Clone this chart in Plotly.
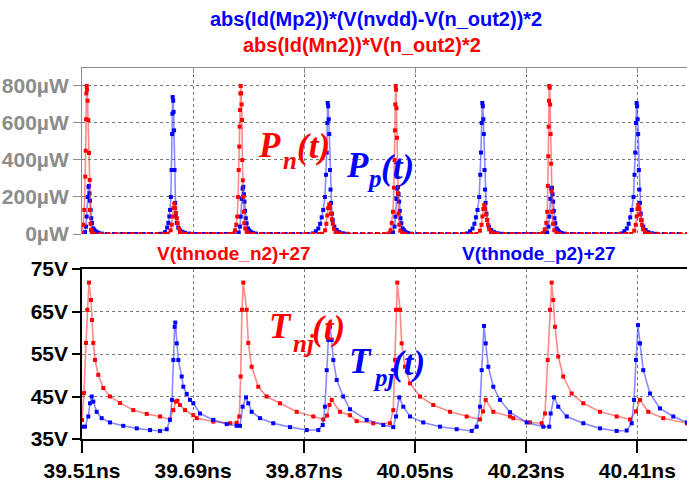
import plotly.graph_objects as go

# ---------------- data (time in ns) ----------------
# Pn(t): abs(Id(Mn2))*V(n_out2)*2  [uW]
pn_points = [
    (39.5100, 5), (39.5120, 50), (39.5137, 130), (39.5153, 310), (39.5160, 450), (39.5166, 620),
    (39.5171, 760), (39.5176, 800), (39.5182, 780), (39.5190, 720), (39.5202, 616), (39.5213, 438),
    (39.5225, 292), (39.5230, 130), (39.5238, 55), (39.5246, 22), (39.5260, 8), (39.5300, 2),
    (39.540, 0), (39.553, 0), (39.566, 0), (39.579, 0), (39.592, 0), (39.605, 0), (39.618, 0),
    (39.631, 0), (39.642, 0),
    (39.6490, 1), (39.6537, 20), (39.6555, 50), (39.6570, 94), (39.6583, 140), (39.6596, 165),
    (39.6610, 140), (39.6623, 113), (39.6637, 85), (39.6650, 59), (39.6670, 30), (39.6688, 10),
    (39.6720, 4), (39.6770, 1),
    (39.688, 0), (39.700, 0), (39.712, 0), (39.724, 0), (39.736, 0), (39.748, 0),
    (39.7560, 3), (39.7580, 20), (39.7600, 50), (39.7617, 94), (39.7630, 200), (39.7640, 346),
    (39.7649, 472), (39.7655, 580), (39.7661, 670), (39.7667, 760), (39.7672, 800), (39.7680, 760),
    (39.7687, 700), (39.7693, 616), (39.7698, 400), (39.7706, 290), (39.7714, 200), (39.7722, 120),
    (39.7730, 58), (39.7745, 30), (39.7769, 12), (39.7800, 4),
    (39.788, 0), (39.800, 0), (39.812, 0), (39.824, 0), (39.836, 0), (39.848, 0), (39.860, 0),
    (39.872, 0), (39.884, 0), (39.894, 0),
    (39.8990, 1), (39.9040, 20), (39.9060, 55), (39.9075, 100), (39.9090, 140), (39.9108, 160),
    (39.9120, 140), (39.9135, 110), (39.9150, 80), (39.9165, 55), (39.9185, 28), (39.9210, 10),
    (39.9250, 3), (39.9300, 1),
    (39.942, 0), (39.954, 0), (39.966, 0), (39.978, 0), (39.990, 0), (40.000, 0),
    (40.0070, 3), (40.0100, 20), (40.0120, 60), (40.0140, 120), (40.0155, 250), (40.0165, 400),
    (40.0172, 560), (40.0178, 700), (40.0184, 800), (40.0190, 780), (40.0197, 680), (40.0205, 520),
    (40.0212, 380), (40.0220, 220), (40.0230, 110), (40.0242, 50), (40.0260, 18), (40.0290, 5),
    (40.0340, 1),
    (40.045, 0), (40.057, 0), (40.069, 0), (40.081, 0), (40.093, 0), (40.105, 0), (40.117, 0),
    (40.129, 0), (40.141, 0), (40.149, 0),
    (40.1550, 18), (40.1575, 50), (40.1590, 95), (40.1605, 135), (40.1620, 157), (40.1635, 135),
    (40.1650, 105), (40.1665, 75), (40.1680, 50), (40.1700, 25), (40.1730, 9), (40.1770, 3),
    (40.183, 0), (40.195, 0), (40.207, 0), (40.219, 0), (40.231, 0), (40.243, 0), (40.252, 0),
    (40.2570, 5), (40.2600, 25), (40.2625, 60), (40.2640, 120), (40.2650, 260), (40.2657, 420),
    (40.2663, 580), (40.2668, 720), (40.2673, 800), (40.2680, 790), (40.2687, 700), (40.2695, 540),
    (40.2703, 380), (40.2712, 230), (40.2722, 120), (40.2735, 55), (40.2755, 20), (40.2790, 6),
    (40.2840, 1),
    (40.296, 0), (40.308, 0), (40.320, 0), (40.332, 0), (40.344, 0), (40.356, 0), (40.368, 0),
    (40.380, 0), (40.392, 0), (40.400, 0),
    (40.4050, 18), (40.4075, 50), (40.4090, 95), (40.4103, 135), (40.4116, 157), (40.4130, 135),
    (40.4145, 105), (40.4160, 75), (40.4175, 50), (40.4195, 25), (40.4225, 9), (40.4265, 3),
    (40.432, 0), (40.444, 0), (40.456, 0), (40.468, 0), (40.480, 0), (40.4905, 0),
]

# Pp(t): abs(Id(Mp2))*(V(nvdd)-V(n_out2))*2  [uW]
pp_points = [
    (39.5100, 0), (39.5130, 2), (39.5150, 10), (39.5165, 40), (39.5175, 94), (39.5190, 200),
    (39.5205, 255), (39.5213, 260), (39.5222, 220), (39.5230, 180), (39.5240, 130), (39.5250, 85),
    (39.5262, 59), (39.5283, 30), (39.5300, 22), (39.5320, 14), (39.5340, 10), (39.5370, 6),
    (39.5420, 2),
    (39.550, 0), (39.562, 0), (39.574, 0), (39.586, 0), (39.598, 0), (39.610, 0), (39.622, 0),
    (39.632, 0),
    (39.6380, 1), (39.6445, 10), (39.6480, 35), (39.6500, 60), (39.6515, 95), (39.6527, 130),
    (39.6540, 200), (39.6552, 346), (39.6560, 540), (39.6565, 650), (39.6570, 740), (39.6578, 720),
    (39.6585, 660), (39.6592, 560), (39.6600, 346), (39.6610, 168), (39.6620, 100), (39.6635, 59),
    (39.6660, 35), (39.6690, 20), (39.6730, 12), (39.6770, 6), (39.6840, 2),
    (39.695, 0), (39.707, 0), (39.719, 0), (39.731, 0), (39.743, 0), (39.755, 0),
    (39.7640, 8), (39.7660, 40), (39.7672, 94), (39.7688, 190), (39.7703, 245), (39.7714, 255),
    (39.7724, 215), (39.7733, 175), (39.7743, 125), (39.7755, 85), (39.7768, 58), (39.7790, 30),
    (39.7810, 20), (39.7835, 12), (39.7870, 6), (39.7920, 2),
    (39.804, 0), (39.816, 0), (39.828, 0), (39.840, 0), (39.852, 0), (39.864, 0), (39.876, 0),
    (39.8840, 3), (39.8890, 15), (39.8930, 30), (39.8960, 55), (39.8985, 90), (39.9010, 130),
    (39.9038, 200), (39.9055, 320), (39.9066, 440), (39.9075, 600), (39.9082, 708), (39.9090, 690),
    (39.9100, 620), (39.9108, 540), (39.9119, 346), (39.9128, 240), (39.9136, 168), (39.9150, 110),
    (39.9163, 76), (39.9190, 40), (39.9228, 22), (39.9270, 10), (39.9330, 4), (39.9400, 1),
    (39.952, 0), (39.964, 0), (39.976, 0), (39.988, 0), (40.000, 0), (40.010, 0),
    (40.0140, 8), (40.0165, 40), (40.0180, 94), (40.0195, 190), (40.0210, 245), (40.0221, 254),
    (40.0231, 215), (40.0240, 175), (40.0250, 125), (40.0262, 85), (40.0275, 58), (40.0297, 30),
    (40.0317, 20), (40.0342, 12), (40.0377, 6), (40.0427, 2),
    (40.054, 0), (40.066, 0), (40.078, 0), (40.090, 0), (40.102, 0), (40.114, 0), (40.126, 0),
    (40.1340, 3), (40.1390, 15), (40.1430, 30), (40.1460, 55), (40.1485, 90), (40.1510, 130),
    (40.1538, 200), (40.1555, 320), (40.1566, 440), (40.1578, 600), (40.1588, 708), (40.1596, 690),
    (40.1605, 620), (40.1613, 540), (40.1624, 346), (40.1633, 240), (40.1641, 168), (40.1655, 110),
    (40.1668, 76), (40.1695, 40), (40.1733, 22), (40.1775, 10), (40.1835, 4), (40.1905, 1),
    (40.202, 0), (40.214, 0), (40.226, 0), (40.238, 0), (40.250, 0), (40.260, 0),
    (40.2640, 8), (40.2660, 40), (40.2675, 94), (40.2690, 190), (40.2705, 245), (40.2717, 250),
    (40.2727, 215), (40.2736, 175), (40.2746, 125), (40.2758, 85), (40.2771, 58), (40.2793, 30),
    (40.2813, 20), (40.2838, 12), (40.2873, 6), (40.2923, 2),
    (40.304, 0), (40.316, 0), (40.328, 0), (40.340, 0), (40.352, 0), (40.364, 0), (40.376, 0),
    (40.3840, 3), (40.3890, 15), (40.3930, 30), (40.3960, 55), (40.3985, 90), (40.4010, 130),
    (40.4038, 200), (40.4055, 320), (40.4067, 440), (40.4078, 600), (40.4089, 708), (40.4097, 690),
    (40.4106, 620), (40.4114, 540), (40.4125, 346), (40.4134, 240), (40.4142, 168), (40.4156, 110),
    (40.4169, 76), (40.4196, 40), (40.4234, 22), (40.4276, 10), (40.4336, 4), (40.4406, 1),
    (40.453, 0), (40.465, 0), (40.477, 0), (40.4905, 0),
]

# Tnj(t): V(thnode_n2)+27  [V]
tn_points = [
    (39.5100, 39.5), (39.5132, 45.8), (39.5165, 57.6), (39.5186, 65.4), (39.5213, 71.8),
    (39.5246, 67.7), (39.5262, 63.0), (39.5283, 57.6), (39.5311, 53.6), (39.5364, 50.1),
    (39.5445, 47.0), (39.5554, 45.0), (39.5716, 43.5), (39.5931, 41.8), (39.6149, 40.9),
    (39.6364, 40.3), (39.6526, 39.6), (39.6580, 41.8), (39.6623, 43.8), (39.6645, 44.0),
    (39.6688, 43.0), (39.6769, 41.8), (39.6904, 40.6), (39.6959, 39.9), (39.7228, 39.1),
    (39.7499, 38.7), (39.7607, 38.8), (39.7649, 40.3), (39.7672, 49.7), (39.7693, 65.4),
    (39.7714, 71.8), (39.7769, 65.4), (39.7795, 57.6), (39.7850, 52.0), (39.7957, 47.3),
    (39.8093, 45.0), (39.8309, 43.4), (39.8580, 41.4), (39.8849, 40.3), (39.9011, 39.6),
    (39.9071, 40.5), (39.9111, 43.0), (39.9147, 44.2), (39.9281, 41.4), (39.9443, 40.6),
    (39.9552, 39.2), (39.9821, 38.7), (40.0092, 38.7), (40.0145, 41.8), (40.0173, 53.6),
    (40.0189, 65.4), (40.0210, 71.8), (40.0254, 65.4), (40.0281, 57.5), (40.0335, 52.0),
    (40.0416, 48.1), (40.0578, 45.0), (40.0793, 43.0), (40.1064, 41.4), (40.1335, 40.3),
    (40.1550, 39.6), (40.1599, 41.5), (40.1643, 44.2), (40.1766, 41.4), (40.2037, 40.3),
    (40.2090, 39.9), (40.2361, 38.9), (40.2550, 38.7), (40.2604, 41.0), (40.2648, 53.6),
    (40.2685, 65.4), (40.2712, 71.8), (40.2738, 67.7), (40.2766, 61.4), (40.2819, 54.4),
    (40.2900, 49.7), (40.3036, 45.7), (40.3225, 43.4), (40.3495, 41.4), (40.3766, 40.3),
    (40.3982, 39.6), (40.4079, 41.5), (40.4144, 44.2), (40.4278, 41.4), (40.4521, 39.9),
    (40.4905, 38.7),
]

# Tpj(t): V(thnode_p2)+27  [V]
tp_points = [
    (39.5100, 37.9), (39.5149, 37.9), (39.5202, 40.3), (39.5230, 43.4), (39.5257, 45.0),
    (39.5283, 43.8), (39.5338, 41.4), (39.5419, 39.9), (39.5554, 38.9), (39.5769, 38.1),
    (39.5987, 37.5), (39.6202, 37.1), (39.6364, 36.9), (39.6473, 37.3), (39.6526, 39.5),
    (39.6559, 44.2), (39.6580, 53.6), (39.6602, 61.4), (39.6612, 62.4), (39.6635, 57.5),
    (39.6661, 53.6), (39.6716, 49.7), (39.6742, 47.3), (39.6797, 45.6), (39.6850, 44.2),
    (39.6904, 43.4), (39.7012, 41.0), (39.7228, 39.5), (39.7445, 38.5), (39.7607, 38.1),
    (39.7661, 38.1), (39.7704, 42.6), (39.7758, 44.8), (39.7795, 43.4), (39.7850, 41.4),
    (39.7985, 39.9), (39.8200, 38.7), (39.8471, 37.8), (39.8742, 37.1), (39.8930, 37.1),
    (39.9001, 38.3), (39.9038, 42.6), (39.9066, 51.2), (39.9092, 58.3), (39.9119, 61.4),
    (39.9147, 58.3), (39.9173, 53.6), (39.9228, 48.9), (39.9335, 45.0), (39.9443, 42.0),
    (39.9714, 39.5), (39.9983, 38.3), (40.0145, 37.8), (40.0189, 40.3), (40.0242, 44.8),
    (40.0307, 42.6), (40.0416, 40.3), (40.0631, 38.9), (40.0902, 37.9), (40.1173, 37.3),
    (40.1416, 36.9), (40.1497, 37.9), (40.1550, 42.6), (40.1578, 51.2), (40.1615, 61.6),
    (40.1643, 57.5), (40.1685, 52.0), (40.1766, 47.3), (40.1874, 44.2), (40.2037, 41.3),
    (40.2307, 38.9), (40.2576, 37.9), (40.2673, 37.9), (40.2696, 41.0), (40.2750, 44.8),
    (40.2819, 42.6), (40.2956, 40.3), (40.3225, 38.7), (40.3495, 37.5), (40.3766, 36.9),
    (40.3928, 37.0), (40.4009, 38.7), (40.4047, 44.2), (40.4079, 53.6), (40.4111, 61.8),
    (40.4144, 57.5), (40.4197, 51.2), (40.4306, 45.7), (40.4468, 42.2), (40.4683, 40.3),
    (40.4905, 38.9),
]

x_ticks = [39.51, 39.69, 39.87, 40.05, 40.23, 40.41]
x_tick_labels = ["39.51ns", "39.69ns", "39.87ns", "40.05ns", "40.23ns", "40.41ns"]
p_ticks = [0, 200, 400, 600, 800]
p_tick_labels = ["0µW", "200µW", "400µW", "600µW", "800µW"]
t_ticks = [35, 45, 55, 65, 75]
t_tick_labels = ["35V", "45V", "55V", "65V", "75V"]

title_p = "abs(Id(Mp2))*(V(nvdd)-V(n_out2))*2"
title_n = "abs(Id(Mn2))*V(n_out2)*2"
label_tn = "V(thnode_n2)+27"
label_tp = "V(thnode_p2)+27"

# ---------------- figure ----------------
W, H = 687, 482
ML, MR, MT, MB = 82, 0, 68, 43
PW, PH = W - ML - MR, H - MT - MB


def px(x):
    return (x - ML) / PW


def py(y):
    return (H - MB - y) / PH


RED = "#ff0000"
BLUE = "#0000ff"
RED_LINE = "rgba(255,40,40,0.55)"
BLUE_LINE = "rgba(40,40,255,0.55)"
SANS = "Liberation Sans, Arial, sans-serif"
SERIF = "Liberation Serif, Times New Roman, serif"

fig = go.Figure()


def add(points, color, line_color, xa, ya):
    t = [p[0] for p in points]
    v = [p[1] for p in points]
    fig.add_trace(go.Scatter(
        x=t, y=v, mode="lines+markers", xaxis=xa, yaxis=ya,
        line=dict(color=line_color, width=1.6),
        marker=dict(color=color, size=4, symbol="square"),
        showlegend=False, hoverinfo="skip"))


add(pp_points, BLUE, BLUE_LINE, "x", "y")
add(pn_points, RED, RED_LINE, "x", "y")
add(tn_points, RED, RED_LINE, "x2", "y2")
add(tp_points, BLUE, BLUE_LINE, "x2", "y2")

xr = [39.51, 39.51 + PW * 0.18 / 111.06]
top_dom = [py(234), 1.0]
bot_dom = [0.0, py(269)]

tickfont_gray = dict(family=SANS, size=21, color="#8c8c8c", weight="bold")
tickfont_black = dict(family=SANS, size=21, color="#000000", weight="bold")
grid = dict(showgrid=True, gridcolor="#7a7a7a", griddash="3px,3px", gridwidth=1)

fig.update_layout(
    width=W, height=H, margin=dict(l=ML, r=MR, t=MT, b=MB),
    paper_bgcolor="white", plot_bgcolor="white",
    xaxis=dict(domain=[0, 1], range=xr, anchor="y", side="top", tickvals=x_ticks,
               showticklabels=False, ticks="inside", ticklen=5, tickcolor="#8c8c8c",
               showline=True, linecolor="#8c8c8c", linewidth=1, zeroline=False, **grid),
    yaxis=dict(domain=top_dom, range=[0, 897], anchor="x", tickvals=p_ticks,
               ticktext=p_tick_labels, tickfont=tickfont_gray, ticks="outside", ticklen=8,
               tickcolor="#8c8c8c", showline=True, linecolor="#8c8c8c", linewidth=1,
               zeroline=False, **grid),
    xaxis2=dict(domain=[0, 1], range=xr, anchor="y2", tickvals=x_ticks, ticktext=x_tick_labels,
                tickfont=tickfont_black, ticks="outside", ticklen=12, tickcolor="#000",
                tickwidth=1.5, showline=True, linecolor="#000", linewidth=1.5, mirror=True,
                zeroline=False, **grid),
    yaxis2=dict(domain=bot_dom, range=[35, 75], anchor="x2", tickvals=t_ticks,
                ticktext=t_tick_labels, tickfont=tickfont_black, ticks="outside", ticklen=8,
                tickcolor="#000", tickwidth=1.5, showline=True, linecolor="#000", linewidth=1.5,
                zeroline=False, **grid),
)

ann = []


def text(s, x, y, color, size, family=SANS, xanchor="center", style="normal"):
    ann.append(dict(text=s, x=px(x), y=py(y), xref="paper", yref="paper", showarrow=False,
                    xanchor=xanchor, yanchor="middle", borderpad=0,
                    font=dict(family=family, size=size, color=color, weight="bold",
                              style=style)))


text(title_p, 376, 19, BLUE, 20)
text(title_n, 362, 45, RED, 20)
text(label_tn, 234, 253, RED, 19)
text(label_tp, 539, 253, BLUE, 19)

# italic symbol labels: main letter, subscript, "(t)"
BIG, SMALL = 35, 25
text("P", 257, 145, RED, BIG, SERIF, "left", "italic")
text("n", 282, 160, RED, SMALL, SERIF, "left", "italic")
text("(t)", 296, 146, RED, BIG, SERIF, "left", "italic")

text("P", 345, 165, BLUE, BIG, SERIF, "left", "italic")
text("p", 366, 178, BLUE, SMALL, SERIF, "left", "italic")
text("(t)", 380, 167, BLUE, BIG, SERIF, "left", "italic")

text("T", 268, 326, RED, BIG, SERIF, "left", "italic")
text("nj", 292, 343, RED, SMALL, SERIF, "left", "italic")
text("(t)", 311, 328, RED, BIG, SERIF, "left", "italic")

text("T", 348, 361, BLUE, BIG, SERIF, "left", "italic")
text("pj", 372, 377, BLUE, SMALL, SERIF, "left", "italic")
text("(t)", 391, 363, BLUE, BIG, SERIF, "left", "italic")

fig.update_layout(annotations=ann)
fig.write_html("out.html")
